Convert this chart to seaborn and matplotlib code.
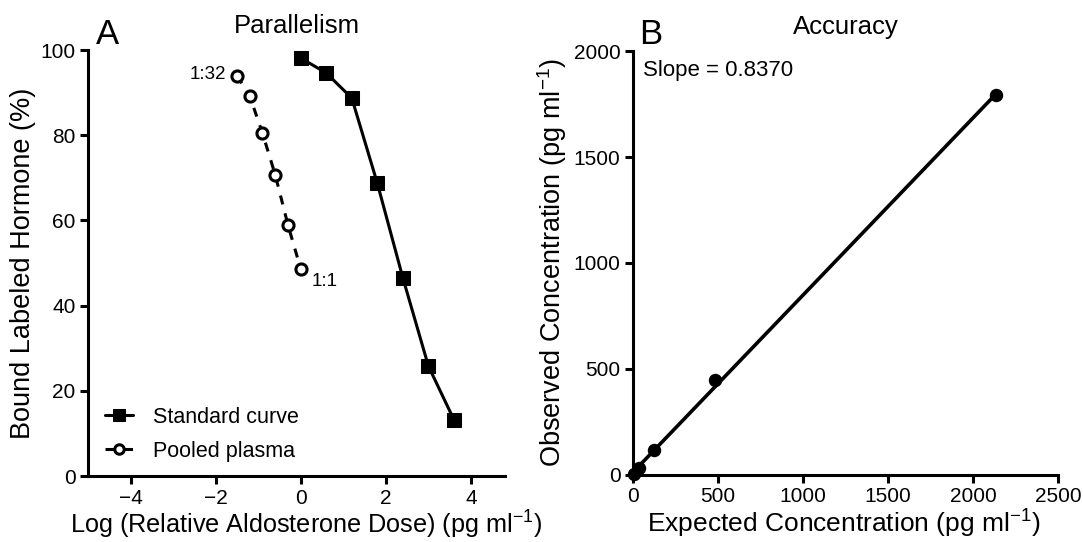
import matplotlib
matplotlib.use("Agg")
import matplotlib.pyplot as plt
import seaborn as sns
import numpy as np

# Panel A - parallelism (log relative dose vs % bound)
std_logdose = [0.0, 0.6, 1.2, 1.8, 2.4, 3.0, 3.6]
std_bound = [98.1, 94.6, 88.7, 68.7, 46.5, 25.8, 13.2]
plasma_logdose = [-1.5, -1.2, -0.9, -0.6, -0.3, 0.0]
plasma_bound = [94.0, 89.2, 80.5, 70.7, 58.9, 48.6]
dilution_labels = ["1:32", "1:1"]

# Panel B - accuracy (expected vs observed)
expected = [6, 36, 125, 484, 2137]
observed = [5, 31, 118, 448, 1792]
slope_text = "Slope = 0.8370"

sns.set_theme(style="ticks")
plt.rcParams["font.family"] = ["Liberation Sans", "DejaVu Sans"]
plt.rcParams["mathtext.fontset"] = "custom"
plt.rcParams["mathtext.rm"] = "Liberation Sans"
plt.rcParams["mathtext.default"] = "regular"
plt.rcParams["axes.linewidth"] = 2.2
plt.rcParams["xtick.major.width"] = 2.2
plt.rcParams["ytick.major.width"] = 2.2
plt.rcParams["xtick.major.size"] = 5.5
plt.rcParams["ytick.major.size"] = 5.5
plt.rcParams["xtick.labelsize"] = 15
plt.rcParams["ytick.labelsize"] = 15
plt.rcParams["xtick.color"] = "black"
plt.rcParams["ytick.color"] = "black"
plt.rcParams["axes.edgecolor"] = "black"
plt.rcParams["axes.labelcolor"] = "black"
plt.rcParams["text.color"] = "black"

fig = plt.figure(figsize=(10.83, 5.42), dpi=100)
axA = fig.add_axes([88 / 1083, 1 - 476 / 542, 417 / 1083, 426 / 542])
axB = fig.add_axes([633 / 1083, 1 - 475 / 542, 425 / 1083, 424 / 542])

# ── Panel A ──────────────────────────────────────────────────────────────
sns.lineplot(x=std_logdose, y=std_bound, ax=axA, color="black", lw=2.2,
             marker="s", markersize=10, mec="black", label="Standard curve")
sns.lineplot(x=plasma_logdose, y=plasma_bound, ax=axA, color="black", lw=2.2,
             linestyle=(0, (3, 3)), marker="o", markersize=8, mfc="white",
             mec="black", mew=2.2, label="Pooled plasma")
for ln in axA.lines:
    ln.set_clip_on(False)

axA.annotate(dilution_labels[0], (plasma_logdose[0], plasma_bound[0]),
             xytext=(-8, 1), textcoords="offset points", ha="right",
             va="center", fontsize=13.5)
axA.annotate(dilution_labels[1], (plasma_logdose[-1], plasma_bound[-1]),
             xytext=(8, -9), textcoords="offset points", ha="left",
             va="center", fontsize=13.5)

axA.set_xlim(-5, 4.8)
axA.set_ylim(0, 100)
axA.set_xticks([-4, -2, 0, 2, 4])
axA.set_yticks([0, 20, 40, 60, 80, 100])
axA.set_xlabel(r"Log (Relative Aldosterone Dose) (pg ml$^{-1}$)", fontsize=18.2,
               labelpad=1)
axA.xaxis.set_label_coords(0.523, -0.077)
axA.set_ylabel("Bound Labeled Hormone (%)", fontsize=19.5, labelpad=3)
axA.set_title("Parallelism", fontsize=18.5, pad=12)
leg = axA.legend(loc="lower left", bbox_to_anchor=(-0.005, -0.012), frameon=False,
                 fontsize=15.5, handlelength=1.3, handletextpad=0.9,
                 labelspacing=0.6, markerscale=0.85)
fig.text(96 / 1083, 1 - 44 / 542, "A", fontsize=25, va="baseline")

# ── Panel B ──────────────────────────────────────────────────────────────
sns.regplot(x=expected, y=observed, ax=axB, ci=None, truncate=True,
            color="black", scatter_kws={"s": 75, "clip_on": False, "zorder": 3,
                                        "alpha": 1},
            line_kws={"lw": 2.6, "clip_on": False})
axB.set_xlim(0, 2500)
axB.set_ylim(0, 2000)
axB.set_xticks([0, 500, 1000, 1500, 2000, 2500])
axB.set_yticks([0, 500, 1000, 1500, 2000])
axB.set_xlabel(r"Expected Concentration (pg ml$^{-1}$)", fontsize=19, labelpad=1)
axB.xaxis.set_label_coords(0.495, -0.077)
axB.set_ylabel(r"Observed Concentration (pg ml$^{-1}$)", fontsize=19.5, labelpad=3)
axB.set_title("Accuracy", fontsize=18.5, pad=12)
axB.text(0.024, 0.955, slope_text, transform=axB.transAxes, fontsize=16,
         va="center", ha="left")
fig.text(639 / 1083, 1 - 44 / 542, "B", fontsize=25, va="baseline")

sns.despine(fig=fig)
fig.savefig("out.png", dpi=100)
plt.close(fig)
